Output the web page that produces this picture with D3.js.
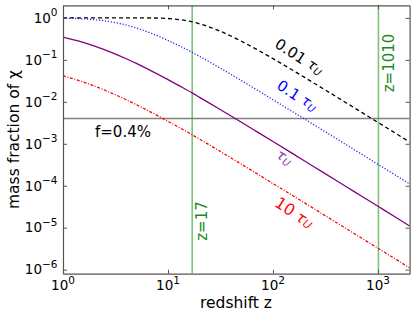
<!DOCTYPE html>
<html lang="en">
<head>
  <meta charset="UTF-8">
  <title>Mass fraction of chi vs redshift</title>
  <script src="https://d3js.org/d3.v7.min.js"></script>
  <style>
    body {
      margin: 0;
      background: #fff;
    }
    svg {
      display: block;
      font-family: "DejaVu Sans", sans-serif;
    }
  </style>
</head>
<body>
  <script>
    // redshift samples and the four curves
    const redshift = [1, 1.5, 2, 3, 4, 5, 7, 10, 13, 17, 20, 30, 50, 70, 100, 150, 200, 300, 500, 700, 1000, 1500, 2000];
    const frac001 = [1, 1, 1, 1, 0.99999, 0.9998, 0.9961, 0.968, 0.909, 0.806, 0.725, 0.506, 0.2785, 0.1775, 0.107, 0.0589, 0.0382, 0.0206, 0.00941, 0.0056, 0.00323, 0.001725, 0.0011];
    const frac01 = [0.986, 0.956, 0.909, 0.792, 0.676, 0.576, 0.426, 0.291, 0.213, 0.151, 0.121, 0.0682, 0.0321, 0.01935, 0.01125, 0.00605, 0.00389, 0.00208, 0.000945, 0.000562, 0.000323, 0.000173, 0.00011];
    const frac1 = [0.348, 0.268, 0.213, 0.145, 0.1065, 0.0822, 0.054, 0.0339, 0.0237, 0.0163, 0.0128, 0.00704, 0.00326, 0.00195, 0.00113, 0.000607, 0.00039, 0.000208, 9.46e-5, 5.62e-5, 3.24e-5, 1.73e-5, 1.1e-5];
    const frac10 = [0.0418, 0.0307, 0.0237, 0.0156, 0.0112, 0.00854, 0.00554, 0.00344, 0.00239, 0.00164, 0.00129, 0.000706, 0.000326, 0.000195, 0.000113, 6.07e-5, 3.9e-5, 2.08e-5, 9.46e-6, 5.62e-6, 3.24e-6, 1.73e-6, 1.1e-6];

    const markers = [17, 1010];       // vertical green lines
    const markerLabels = ["z=17", "z=1010"];
    const threshold = 0.004;          // f=0.4%
    const xMajor = [1, 10, 100, 1000];
    const xExp = [0, 1, 2, 3];
    const yMajor = [1e-6, 1e-5, 1e-4, 1e-3, 1e-2, 1e-1, 1];
    const yExp = [-6, -5, -4, -3, -2, -1, 0];

    const width = 415, height = 319;
    const pLeft = 63, pRight = 409.6, pTop = 5.3, pBottom = 273.7;
    const spine = "#555";

    const x = d3.scaleLog().domain([1, 2000]).range([pLeft, pRight]);
    const y = d3.scaleLog().domain([8e-7, 2]).range([pBottom, pTop]);

    const svg = d3.select("body")
      .append("svg")
      .attr("width", width)
      .attr("height", height);

    svg.append("clipPath").attr("id", "plot")
      .append("rect")
      .attr("x", pLeft).attr("y", pTop)
      .attr("width", pRight - pLeft).attr("height", pBottom - pTop);

    // minor tick values inside the domains
    const xMinor = [];
    xMajor.forEach(d => d3.range(2, 10).forEach(k => { if (k * d < 2000) xMinor.push(k * d); }));
    const yMinor = [];
    [1e-7, 1e-6, 1e-5, 1e-4, 1e-3, 1e-2, 1e-1, 1].forEach(d => d3.range(2, 10).forEach(k => {
      const v = k * d;
      if (v >= 8e-7 && v < 2) yMinor.push(v);
    }));

    const g = svg.append("g");
    const plot = g.append("g").attr("clip-path", "url(#plot)");

    // green markers
    plot.selectAll(".marker")
      .data(markers)
      .enter()
      .append("line")
      .attr("x1", d => x(d)).attr("x2", d => x(d))
      .attr("y1", pTop).attr("y2", pBottom)
      .attr("stroke", "#7cc27c")
      .attr("stroke-width", 1.6);

    // threshold line
    plot.append("line")
      .attr("x1", pLeft).attr("x2", pRight)
      .attr("y1", y(threshold)).attr("y2", y(threshold))
      .attr("stroke", "#808080")
      .attr("stroke-width", 1.6);

    const line = d3.line()
      .x(d => x(d[0]))
      .y(d => y(d[1]))
      .curve(d3.curveMonotoneX);

    const series = [
      { values: frac001, color: "#000", dash: "4,3", w: 1.3 },
      { values: frac01, color: "#2323ff", dash: "1.2,1.8", w: 1.3 },
      { values: frac1, color: "#800080", dash: null, w: 1.3 },
      { values: frac10, color: "#ff0000", dash: "3,1.6,1,1.6", w: 1.3 }
    ];

    series.forEach(s => {
      plot.append("path")
        .datum(redshift.map((z, i) => [z, s.values[i]]))
        .attr("d", line)
        .attr("fill", "none")
        .attr("stroke", s.color)
        .attr("stroke-width", s.w)
        .attr("stroke-dasharray", s.dash);
    });

    // axes: inward ticks on all four sides
    function drawAxis(axisFn, scale, major, minor, transform) {
      const a = g.append("g").attr("transform", transform);
      a.call(axisFn(scale).tickValues(minor).tickSize(-2).tickSizeOuter(0).tickFormat(""));
      a.call(axisFn(scale).tickValues(major).tickSize(-4).tickSizeOuter(0).tickFormat(""));
      a.selectAll("path, line").attr("stroke", spine);
      a.select(".domain").attr("stroke-width", 1.2);
      return a;
    }
    drawAxis(d3.axisBottom, x, xMajor, xMinor, `translate(0,${pBottom})`);
    drawAxis(d3.axisTop, x, xMajor, xMinor, `translate(0,${pTop})`);
    drawAxis(d3.axisLeft, y, yMajor, yMinor, `translate(${pLeft},0)`);
    drawAxis(d3.axisRight, y, yMajor, yMinor, `translate(${pRight},0)`);

    function powLabel(t, e) {
      t.append("tspan").text("10");
      t.append("tspan")
        .attr("dy", -6.5)
        .attr("font-size", 10.5)
        .text(e < 0 ? "\u2212" + (-e) : e);
    }

    xMajor.forEach((d, i) => {
      const t = g.append("text")
        .attr("x", x(d)).attr("y", 290)
        .attr("text-anchor", "middle")
        .attr("font-size", 13.5);
      powLabel(t, xExp[i]);
    });

    yMajor.forEach((d, i) => {
      const t = g.append("text")
        .attr("x", 57.5).attr("y", y(d) + 4.8)
        .attr("text-anchor", "end")
        .attr("font-size", 13.5);
      powLabel(t, yExp[i]);
    });

    // axis titles
    g.append("text")
      .attr("x", 236).attr("y", 308)
      .attr("text-anchor", "middle")
      .attr("font-size", 15.5)
      .text("redshift z");

    g.append("text")
      .attr("transform", `translate(19,${(pTop + pBottom) / 2}) rotate(-90)`)
      .attr("text-anchor", "middle")
      .attr("font-size", 15.5)
      .text("mass fraction of \u03c7");

    // marker labels
    const markerPos = [[201.5, 221], [388.5, 63]];
    markers.forEach((d, i) => {
      g.append("text")
        .attr("transform", `translate(${markerPos[i][0] + 5},${markerPos[i][1]}) rotate(-90)`)
        .attr("text-anchor", "middle")
        .attr("font-size", 15)
        .attr("fill", "#1a8a1a")
        .text(markerLabels[i]);
    });

    g.append("text")
      .attr("x", 95).attr("y", 136.5)
      .attr("font-size", 15)
      .text("f=0.4%");

    // curve labels
    const curveLabels = [
      { pre: "0.01 ", color: "#000", x: 299, y: 57, size: 15 },
      { pre: "0.1 ", color: "#0000ff", x: 297, y: 96, size: 15 },
      { pre: "", color: "#8a3a9a", x: 284, y: 158, size: 15 },
      { pre: "10 ", color: "#ff0000", x: 294, y: 213, size: 16 }
    ];
    curveLabels.forEach(c => {
      const t = g.append("text")
        .attr("transform", `translate(${c.x},${c.y}) rotate(33)`)
        .attr("text-anchor", "middle")
        .attr("dominant-baseline", "middle")
        .attr("font-size", c.size)
        .attr("fill", c.color);
      if (c.pre) t.append("tspan").text(c.pre);
      t.append("tspan").attr("font-style", "italic").attr("font-size", c.size - 1).text("\u03c4");
      t.append("tspan").attr("font-style", "italic").attr("font-size", c.size - 5).attr("dy", 3).text("U");
    });
  </script>
</body>
</html>
